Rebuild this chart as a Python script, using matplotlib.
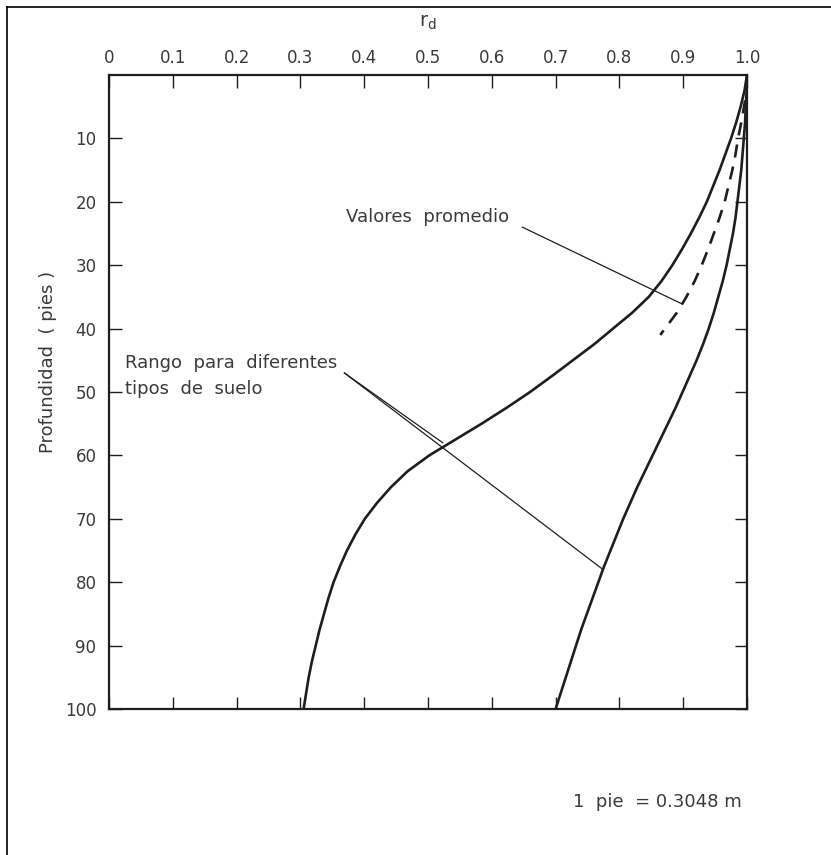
import numpy as np
import matplotlib
matplotlib.use('Agg')
import matplotlib.pyplot as plt
from matplotlib.lines import Line2D

# depth (ft) vs stress reduction factor r_d
depth = [0, 2.5, 5, 7.5, 10, 12.5, 15, 17.5, 20, 22.5, 25, 27.5, 30, 32.5, 35, 37.5, 40,
         42.5, 45, 47.5, 50, 52.5, 55, 57.5, 60, 62.5, 65, 67.5, 70, 72.5, 75, 77.5, 80,
         82.5, 85, 87.5, 90, 92.5, 95, 97.5, 100]
rd_low = [1.0, 0.996, 0.99, 0.983, 0.975, 0.966, 0.957, 0.947, 0.937, 0.925, 0.912, 0.898,
          0.883, 0.866, 0.846, 0.82, 0.79, 0.76, 0.727, 0.694, 0.66, 0.623, 0.584, 0.543,
          0.502, 0.468, 0.442, 0.42, 0.401, 0.386, 0.373, 0.362, 0.352, 0.344, 0.337, 0.33,
          0.324, 0.318, 0.313, 0.309, 0.305]
rd_high = [1.0, 0.9995, 0.998, 0.997, 0.995, 0.993, 0.991, 0.988, 0.985, 0.982, 0.978, 0.973,
           0.968, 0.962, 0.955, 0.948, 0.94, 0.931, 0.921, 0.91, 0.899, 0.888, 0.876, 0.864,
           0.852, 0.84, 0.828, 0.817, 0.806, 0.796, 0.786, 0.776, 0.767, 0.758, 0.749, 0.74,
           0.732, 0.724, 0.716, 0.708, 0.70]

depth_avg = [4, 7.5, 10, 12.5, 15, 17.5, 20, 22.5, 25, 27.5, 30, 32.5, 35, 37.5, 41]
rd_avg = [0.997, 0.991, 0.986, 0.982, 0.977, 0.971, 0.965, 0.957, 0.948, 0.939, 0.929,
          0.918, 0.905, 0.89, 0.864]

x_ticks = [0, 0.1, 0.2, 0.3, 0.4, 0.5, 0.6, 0.7, 0.8, 0.9, 1.0]
x_labels = ['0', '0.1', '0.2', '0.3', '0.4', '0.5', '0.6', '0.7', '0.8', '0.9', '1.0']
y_ticks = [10, 20, 30, 40, 50, 60, 70, 80, 90, 100]
y_labels = ['10', '20', '30', '40', '50', '60', '70', '80', '90', '100']

ink = '#1e1e1e'
txt = '#3a3a3a'
fs = 12
fs_note = 13

fig = plt.figure(figsize=(8.31, 8.55), dpi=100)
ax = fig.add_axes([109/831, 1-709/855, 638/831, 634/855])

ax.plot(rd_low, depth, color=ink, lw=1.9, solid_joinstyle='round')
ax.plot(rd_high, depth, color=ink, lw=1.9, solid_joinstyle='round')
ax.plot(rd_avg, depth_avg, color=ink, lw=1.9, dashes=(5, 3.5))

# leader lines
ax.plot([0.648, 0.898], [24, 36.1], color=ink, lw=0.9)
ax.plot([0.369, 0.523], [47, 58], color=ink, lw=0.9)
ax.plot([0.369, 0.773], [47, 77.9], color=ink, lw=0.9)

ax.text(0.371, 22.4, 'Valores  promedio', fontsize=fs_note, color=txt, va='center', ha='left')
ax.text(0.025, 45.4, 'Rango  para  diferentes', fontsize=fs_note, color=txt, va='center', ha='left')
ax.text(0.025, 49.5, 'tipos  de  suelo', fontsize=fs_note, color=txt, va='center', ha='left')

ax.set_xlim(0, 1)
ax.set_ylim(100, 0)
ax.set_xticks(x_ticks)
ax.set_xticklabels(x_labels)
ax.set_yticks(y_ticks)
ax.set_yticklabels(y_labels)
ax.tick_params(axis='both', direction='in', length=9, width=1.0, color=ink,
               labelsize=fs, labelcolor=txt, top=True, bottom=True, left=True, right=True,
               labeltop=True, labelbottom=False, pad=6)
ax.tick_params(axis='y', pad=9)
for s in ax.spines.values():
    s.set_linewidth(1.6)
    s.set_color(ink)

ax.set_ylabel('Profundidad  ( pies )', fontsize=fs_note, color=txt)
ax.yaxis.set_label_coords(-0.082, 0.547)

fig.text(428/831, 1-22/855, r'$\mathregular{r_d}$', fontsize=fs+2, color=txt, ha='center', va='center')
fig.text(573/831, 1-802/855, '1  pie  = 0.3048 m', fontsize=fs_note, color=txt, ha='left', va='center')

# page frame
fig.add_artist(Line2D([7/831, 7/831], [0, 1-7/855], color='black', lw=1.2))
fig.add_artist(Line2D([7/831, 1], [1-7/855, 1-7/855], color='black', lw=1.2))

fig.savefig('out.png', dpi=100, facecolor='white')
